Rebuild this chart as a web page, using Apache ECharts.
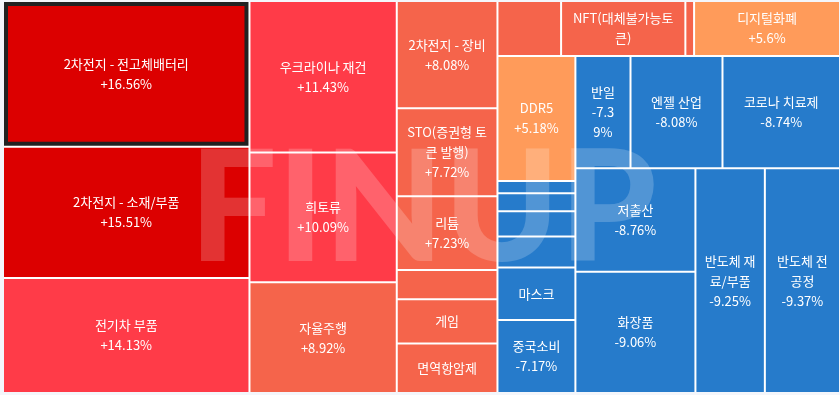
<!DOCTYPE html>
<html>
<head>
<meta charset="utf-8">
<script src="https://cdn.jsdelivr.net/npm/echarts@6/dist/echarts.min.js"></script>
<style>
  html, body { margin: 0; padding: 0; background: #f4f6fb; }
  #chart { width: 840px; height: 395px; }
</style>
</head>
<body>
<div id="chart"></div>
<script>
// Theme names (in the order drawn, sorted by change, descending)
const names = [
  '2차전지 - 전고체배터리', '2차전지 - 소재/부품', '전기차 부품',
  '우크라이나 재건', '희토류', '자율주행',
  '2차전지 - 장비', 'STO(증권형 토큰 발행)', '리튬', '', '게임', '면역항암제',
  '', 'NFT(대체불가능토큰)', '', '디지털화폐',
  'DDR5', '', '', '', '', '마스크', '중국소비',
  '반일', '엔젤 산업', '코로나 치료제',
  '저출산', '화장품', '반도체 재료/부품', '반도체 전공정'
];
// Daily change (%)
const changes = [
  16.56, 15.51, 14.13,
  11.43, 10.09, 8.92,
  8.08, 7.72, 7.23, 7.1, 6.95, 6.8,
  6.6, 6.4, 6.1, 5.6,
  5.18, -5.9, -6.3, -6.6, -6.8, -7.0, -7.17,
  -7.39, -8.08, -8.74,
  -8.76, -9.06, -9.25, -9.37
];
// Size weights (tile area)
const sizes = [
  35670, 32103, 28167,
  22153, 18963, 16214,
  10723, 8794, 7377, 2935, 4412, 4955,
  3473, 6783, 476, 7964,
  9681, 950, 1390, 1943, 2409, 4064, 5649,
  6149, 10263, 13114,
  12339, 14436, 15489, 16763
];
const selectedName = '2차전지 - 전고체배터리';

function colorFor(c) {
  if (c < 0) return '#267bcb';
  if (c >= 15) return '#dc0000';
  if (c >= 10) return '#ff3b48';
  if (c >= 6) return '#f5644b';
  return '#ff9b5a';
}
function fmtChange(c) {
  return (c > 0 ? '+' : '') + c + '%';
}

const data = names.map((n, i) => {
  const item = {
    id: 'n' + i,
    name: n,
    value: sizes[i],
    change: changes[i],
    itemStyle: { color: colorFor(changes[i]) }
  };
  if (n === selectedName) {
    item.itemStyle.borderColor = '#222222';
    item.itemStyle.borderWidth = 4;
  }
  if (n === '반일') {
    item.label = { padding: [6, 13] };
  }
  return item;
});

const chart = echarts.init(document.getElementById('chart'), null, { renderer: 'canvas' });
chart.setOption({
  backgroundColor: '#f4f6fb',
  animation: false,
  series: [{
    type: 'treemap',
    left: 4, top: 2, width: 835, height: 390,
    roam: false,
    nodeClick: false,
    sort: false,
    visibleMin: 0,
    breadcrumb: { show: false },
    levels: [
      { itemStyle: { borderWidth: 0, gapWidth: 2, borderColor: '#ffffff' } },
      { itemStyle: { borderWidth: 0, gapWidth: 0, borderColor: '#ffffff' } }
    ],
    label: {
      show: true,
      position: 'inside',
      color: '#ffffff',
      fontSize: 13,
      lineHeight: 20,
      padding: [6, 6],
      overflow: 'breakAll',
      fontFamily: '"Noto Sans CJK KR", "Noto Sans", sans-serif',
      formatter: function (p) {
        if (!p.name) return '';
        return p.name + '\n' + fmtChange(p.data.change);
      }
    },
    data: data
  }],
  graphic: [{
    type: 'text',
    silent: true,
    z: 100,
    x: 423,
    y: 211,
    style: {
      text: 'FINUP',
      font: '900 155px Lato, "Liberation Sans", Arial, sans-serif',
      fill: 'rgba(255,255,255,0.2)',
      textAlign: 'center',
      textVerticalAlign: 'middle'
    }
  }]
});
</script>
</body>
</html>
